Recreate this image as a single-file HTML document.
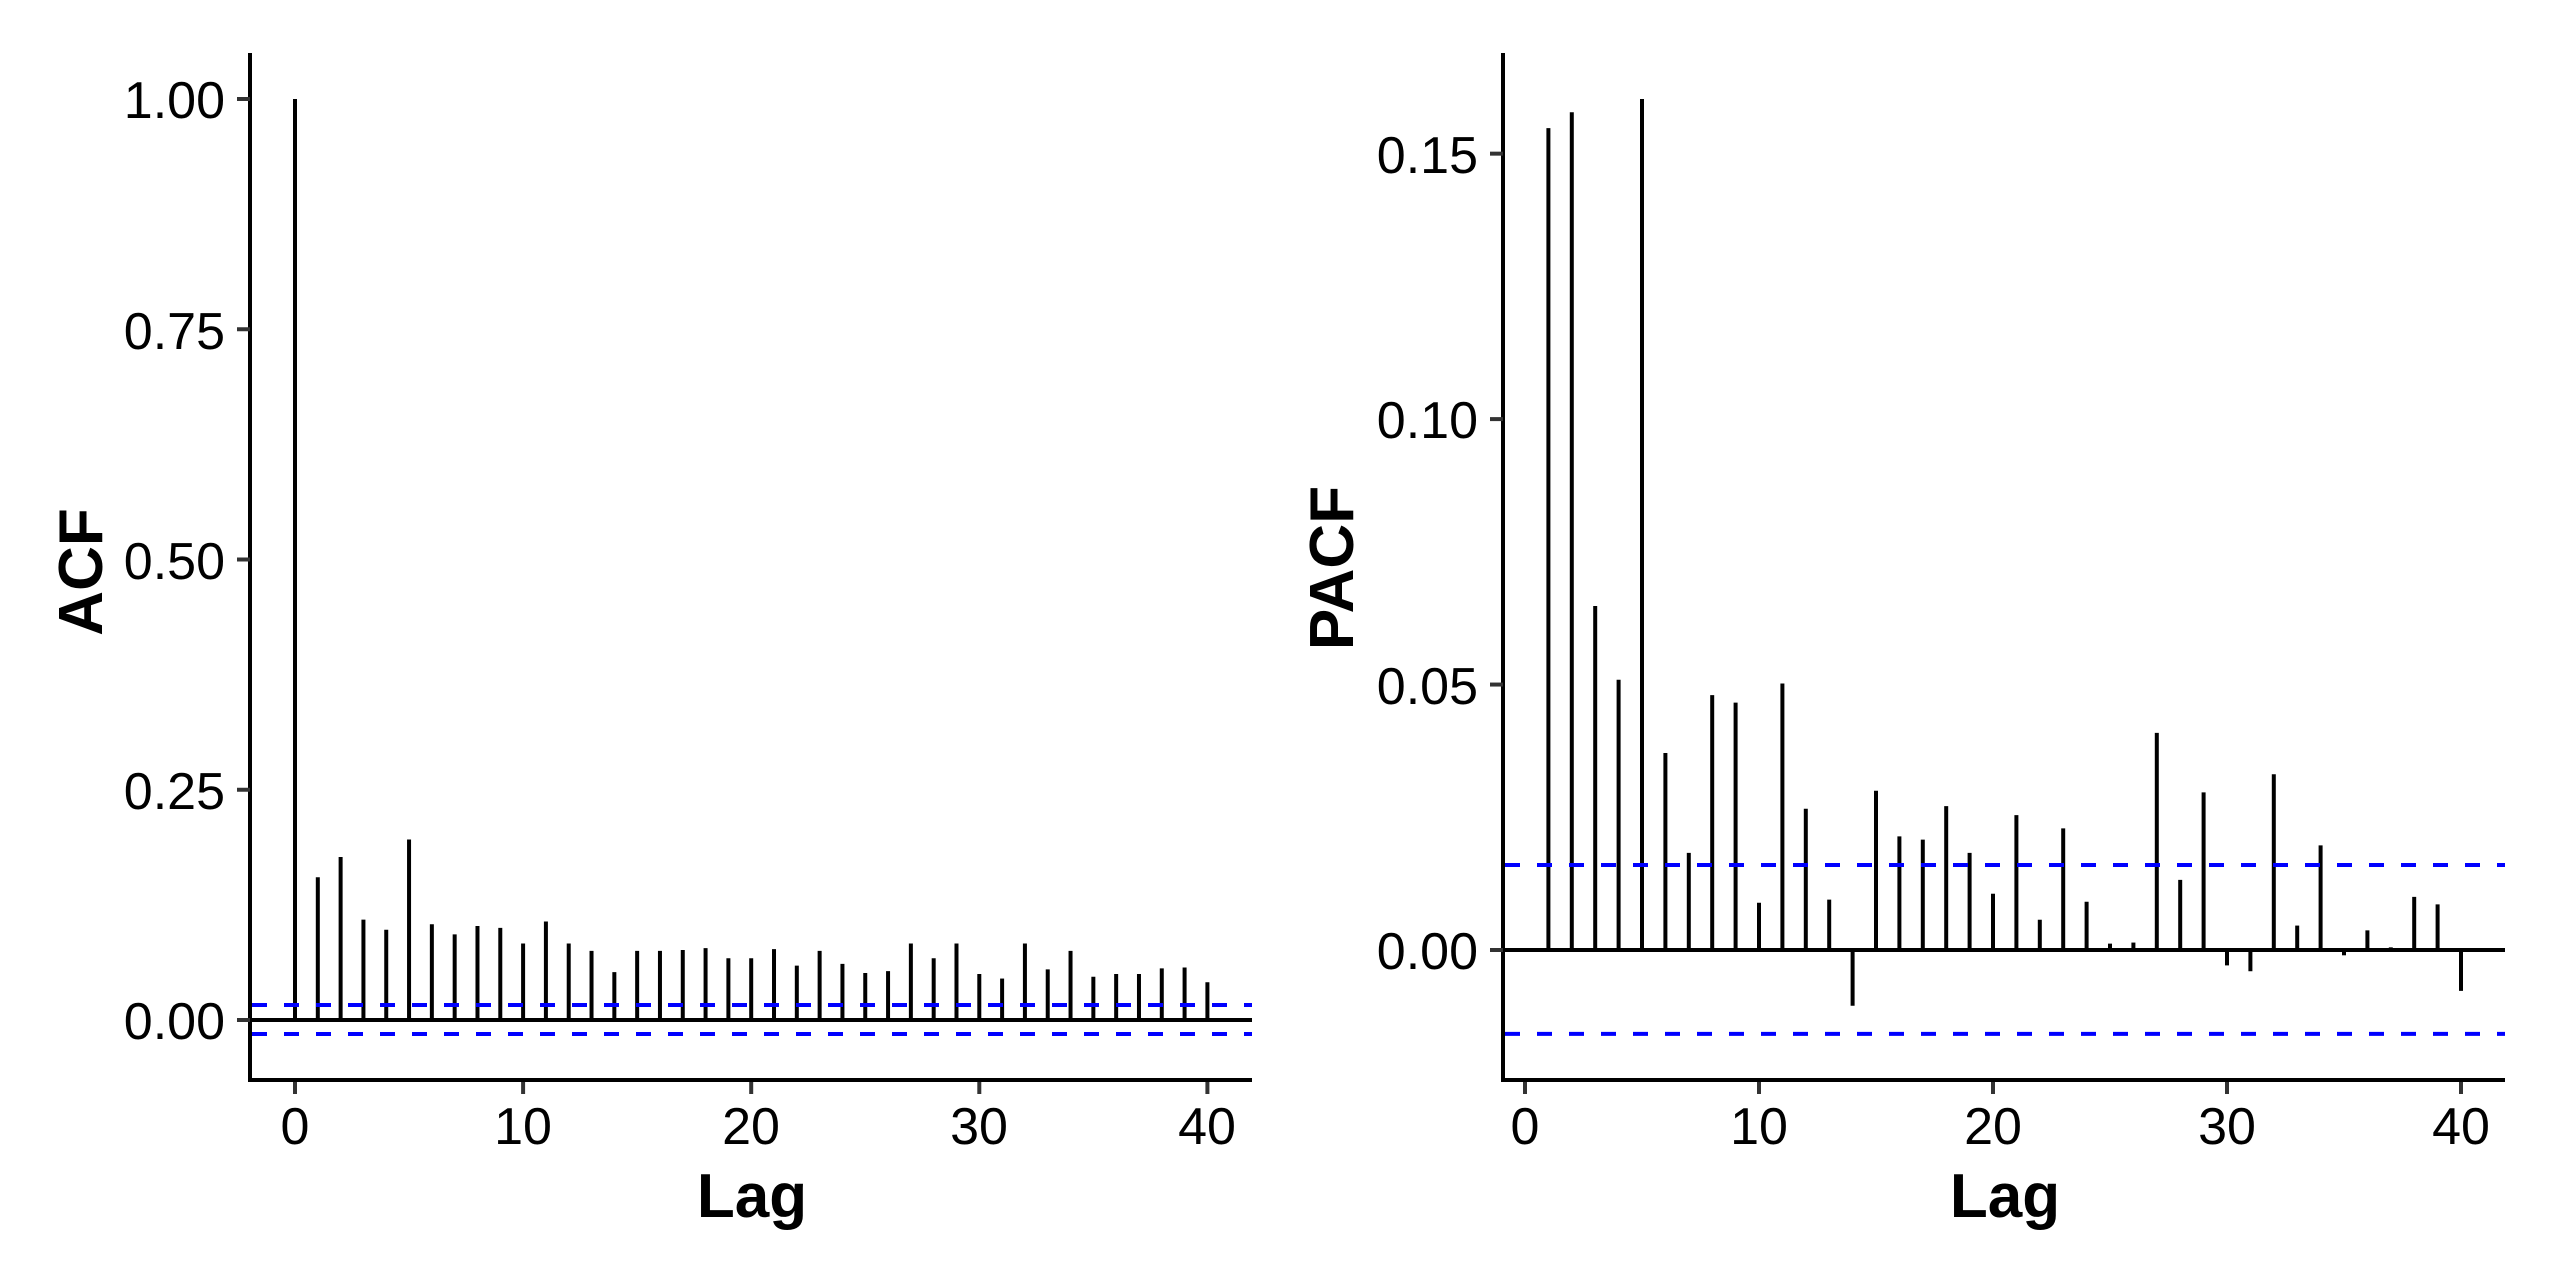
<!DOCTYPE html>
<html><head><meta charset="utf-8"><style>
html,body{margin:0;padding:0;background:#fff;width:2560px;height:1280px;overflow:hidden}
svg{display:block}
text{font-family:"Liberation Sans",Arial,sans-serif;fill:#000}
.tk{font-size:52px}
.ttl{font-size:62px;font-weight:bold}
</style></head><body>
<svg id="s" width="2560" height="1280" viewBox="0 0 2560 1280" xmlns="http://www.w3.org/2000/svg">
<rect width="2560" height="1280" fill="#fff"/>
<g id="g"></g>
<g class="tk" text-anchor="end">
<text x="225" y="118">1.00</text>
<text x="225" y="349">0.75</text>
<text x="225" y="579">0.50</text>
<text x="225" y="809">0.25</text>
<text x="225" y="1039">0.00</text>
</g>
<g class="tk" text-anchor="middle">
<text x="295" y="1144">0</text>
<text x="523" y="1144">10</text>
<text x="751" y="1144">20</text>
<text x="979" y="1144">30</text>
<text x="1207" y="1144">40</text>
</g>
<text class="ttl" x="752" y="1217" text-anchor="middle">Lag</text>
<text class="ttl" transform="translate(102,572) rotate(-90)" text-anchor="middle">ACF</text>
<g class="tk" text-anchor="end">
<text x="1478" y="173">0.15</text>
<text x="1478" y="438">0.10</text>
<text x="1478" y="704">0.05</text>
<text x="1478" y="969">0.00</text>
</g>
<g class="tk" text-anchor="middle">
<text x="1525" y="1144">0</text>
<text x="1759" y="1144">10</text>
<text x="1993" y="1144">20</text>
<text x="2227" y="1144">30</text>
<text x="2461" y="1144">40</text>
</g>
<text class="ttl" x="2005" y="1217" text-anchor="middle">Lag</text>
<text class="ttl" transform="translate(1353,568) rotate(-90)" text-anchor="middle">PACF</text>
</svg>
<script>
var g=document.getElementById('g'),NS='http://www.w3.org/2000/svg';
function L(x1,y1,x2,y2,c,w,d){var l=document.createElementNS(NS,'line');l.setAttribute('x1',x1);l.setAttribute('y1',y1);l.setAttribute('x2',x2);l.setAttribute('y2',y2);l.setAttribute('stroke',c);l.setAttribute('stroke-width',w);if(d)l.setAttribute('stroke-dasharray',d);g.appendChild(l);}
var acf=[1,0.155,0.177,0.109,0.098,0.196,0.104,0.093,0.102,0.100,0.083,0.107,0.083,0.075,0.052,0.075,0.075,0.076,0.078,0.067,0.067,0.077,0.059,0.075,0.061,0.051,0.053,0.083,0.067,0.083,0.050,0.045,0.083,0.055,0.075,0.047,0.050,0.050,0.056,0.057,0.041];
function ax(l){return 295+l*22.81} function ay(v){return 1020-v*921}
L(250,53,250,1082,'#000',4);L(248,1080,1252,1080,'#000',4);
[1,0.75,0.5,0.25,0].forEach(function(v){L(237,ay(v),250,ay(v),'#333',4)});
[0,10,20,30,40].forEach(function(t){L(ax(t),1082,ax(t),1094,'#333',4)});
acf.forEach(function(v,i){L(ax(i),ay(0),ax(i),ay(v),'#000',4)});
L(250,ay(0),1252,ay(0),'#000',4);
L(252,1005,1252,1005,'#0000ff',4,'15,17');
L(252,1034,1252,1034,'#0000ff',4,'15,17');
var pacf=[0.1548,0.1578,0.0648,0.0509,0.1603,0.0371,0.0183,0.048,0.0466,0.0089,0.0502,0.0266,0.0095,-0.0105,0.030,0.0214,0.0208,0.0271,0.0183,0.0106,0.0254,0.0057,0.0229,0.0091,0.0012,0.0014,0.0409,0.0132,0.0297,-0.0029,-0.004,0.0331,0.0046,0.0197,-0.001,0.0037,0.0005,0.01,0.0086,-0.0077];
function bx(l){return 1525+l*23.4} function by(v){return 950-v*5309}
L(1503,53,1503,1082,'#000',4);L(1501,1080,2505,1080,'#000',4);
[0.15,0.1,0.05,0].forEach(function(v){L(1490,by(v),1503,by(v),'#333',4)});
[0,10,20,30,40].forEach(function(t){L(bx(t),1082,bx(t),1094,'#333',4)});
pacf.forEach(function(v,i){L(bx(i+1),by(0),bx(i+1),by(v),'#000',4)});
L(1503,by(0),2505,by(0),'#000',4);
L(1505,by(0.016),2505,by(0.016),'#0000ff',4,'15,17');
L(1505,by(-0.0158),2505,by(-0.0158),'#0000ff',4,'15,17');
</script>
</body></html>
